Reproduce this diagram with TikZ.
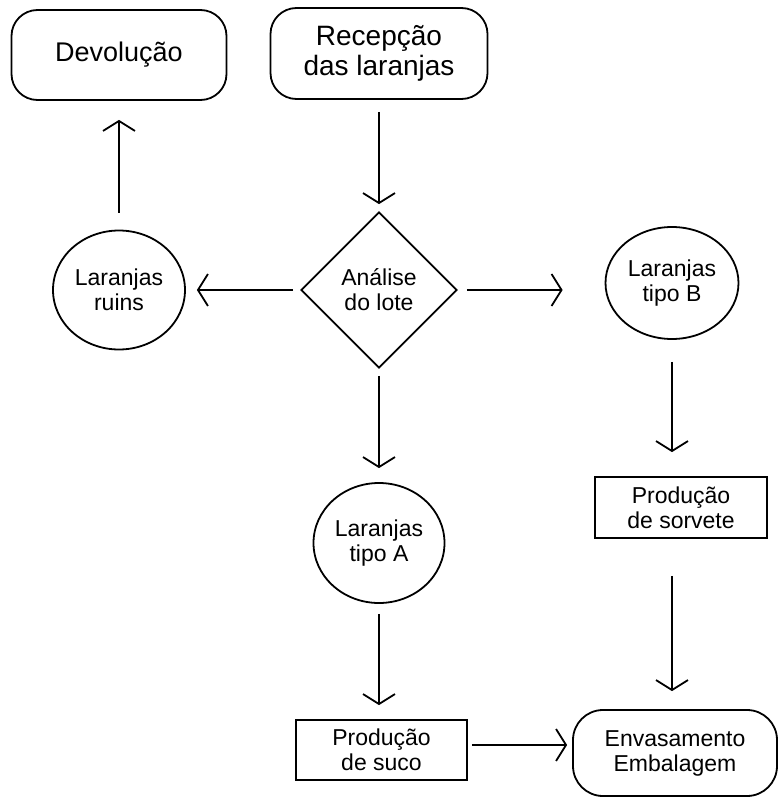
\documentclass[tikz,border=0pt]{standalone}
\usepackage{fontspec}
\setmainfont{Liberation Sans}
\usetikzlibrary{arrows.meta,shapes.geometric}

\tikzset{
  big/.style={font=\fontsize{28}{30}\selectfont},
  small/.style={font=\fontsize{23}{25}\selectfont},
  roundbox/.style={draw, line width=1.8pt, rounded corners=26pt, align=center, inner sep=0pt},
  plainbox/.style={draw, line width=1.8pt, align=center, inner sep=0pt},
  oval/.style={draw, ellipse, line width=1.8pt, align=center, inner sep=0pt},
  decision/.style={draw, diamond, line width=1.8pt, align=center, inner sep=0pt,
    minimum width=156pt, minimum height=156pt},
  flow/.style={line width=1.8pt, -{Straight Barb[length=10pt,width=32pt,line width=1.8pt]}}
}

\begin{document}
\begin{tikzpicture}[x=1pt,y=-1pt]
\useasboundingbox (0,0) rectangle (779,797);

% nodes
\node[roundbox, font=\fontsize{27}{29}\selectfont, minimum width=215pt, minimum height=90pt] (dev) at (119,55) {Devolução};
\node[roundbox, big, minimum width=217pt, minimum height=91pt] (rec) at (379,53.5) {Recepção\\das laranjas};
\node[decision, small] (dia) at (379,290) {Análise\\do lote};
\node[oval, small, minimum width=132pt, minimum height=119pt] (ruim) at (119,290) {Laranjas\\ruins};
\node[oval, small, minimum width=133pt, minimum height=112pt] (tipob) at (672,283) {Laranjas\\tipo B};
\node[oval, small, minimum width=131pt, minimum height=120pt] (tipoa) at (379,543) {Laranjas\\tipo A};
\node[plainbox, small, minimum width=172pt, minimum height=61pt] (sorv) at (681,507.5) {Produção\\de sorvete};
\node[plainbox, small, minimum width=171pt, minimum height=60pt] (suco) at (381.5,750) {Produção\\de suco};
\node[roundbox, small, rounded corners=30pt, minimum width=204pt, minimum height=86pt] (env) at (675,753) {Envasamento\\Embalagem};

% connectors
\draw[flow, shorten <=12pt, shorten >=7pt] (rec.south) -- (dia.north);
\draw[flow, shorten <=17pt, shorten >=19pt] (ruim.north) -- (dev.south);
\draw[flow, shorten <=7pt, shorten >=11pt] (dia.west) -- (ruim.east);
\draw[flow, shorten <=9pt, shorten >=42pt] (dia.east) -- (dia.east -| tipob.west);
\draw[flow, shorten <=7pt, shorten >=14pt] (dia.south) -- (tipoa.north);
\draw[flow, shorten <=10pt, shorten >=14pt] (tipoa.south) -- (tipoa.south |- suco.north);
\draw[flow, shorten <=22pt, shorten >=24pt] (tipob.south) -- (tipob.south |- sorv.north);
\draw[flow, shorten <=37pt, shorten >=18pt] (tipob.south |- sorv.south) -- (tipob.south |- env.north);
\draw[flow, shorten <=4pt, shorten >=5pt] ([yshift=5pt]suco.east) -- ([yshift=5pt]suco.east -| env.west);
\end{tikzpicture}
\end{document}
